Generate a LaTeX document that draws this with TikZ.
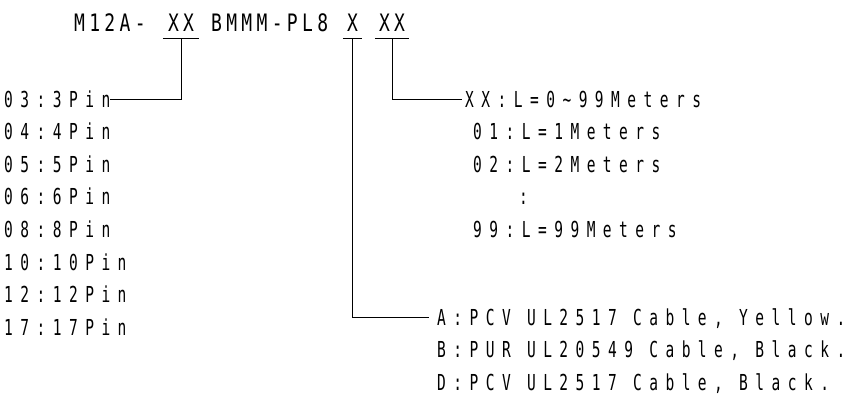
\documentclass[tikz,border=0pt]{standalone}
\usepackage{fontspec}
\usepackage{tikz}
\usetikzlibrary{positioning}
\newfontfamily\titlefont{DejaVu Sans Mono}[FakeStretch=0.75, LetterSpace=18]
\newfontfamily\rowfont{DejaVu Sans Mono}[FakeStretch=0.66, LetterSpace=34]

\begin{document}
\begin{tikzpicture}[
    x=1pt, y=-1pt,
    node distance=32.6pt,
    part/.style={font={\titlefont\fontsize{24}{27}\selectfont}, inner sep=0pt,
                 text height=17.5pt, text depth=6.5pt},
    item/.style={font={\rowfont\fontsize{22}{25}\selectfont}, inner sep=0pt,
                 text height=16pt, text depth=0pt, anchor=west},
    line/.style={line width=0.9pt, color=black},
]
    \useasboundingbox (0,0) rectangle (854,420);

    \node[part, anchor=south west] (pre)   at (74,38)    {M12A-};
    \node[part, minimum width=36pt] (pin)  at (181,26.5) {XX};
    \node[part, anchor=south west] (mid)   at (211,38)   {BMMM-PL8};
    \node[part, minimum width=19pt] (cable) at (352.5,26.5) {X};
    \node[part, minimum width=34pt] (len)  at (392,26.5) {XX};

    \node[item] (p03) at (4,99) {03:3Pin};
    \node[item, below=of p03.west, anchor=west] (p04) {04:4Pin};
    \node[item, below=of p04.west, anchor=west] (p05) {05:5Pin};
    \node[item, below=of p05.west, anchor=west] (p06) {06:6Pin};
    \node[item, below=of p06.west, anchor=west] (p08) {08:8Pin};
    \node[item, below=of p08.west, anchor=west] (p10) {10:10Pin};
    \node[item, below=of p10.west, anchor=west] (p12) {12:12Pin};
    \node[item, below=of p12.west, anchor=west] (p17) {17:17Pin};

    \node[item] (lxx) at (465,99)  {XX:L=0\textasciitilde99Meters};
    \node[item] (l01) at (473,131.6) {01:L=1Meters};
    \node[item, below=of l01.west, anchor=west] (l02) {02:L=2Meters};
    \node[item] (ldots) at (519,196.8) {:};
    \node[item, below=65.2pt of l02.west, anchor=west] (l99) {99:L=99Meters};

    \node[item] (ca) at (437,317) {A:PCV UL2517 Cable, Yellow.};
    \node[item, below=of ca.west, anchor=west] (cb) {B:PUR UL20549 Cable, Black.};
    \node[item, below=of cb.west, anchor=west] (cd) {D:PCV UL2517 Cable, Black.};

    \draw[line] (pin.south west)   -- (pin.south east);
    \draw[line] (cable.south west) -- (cable.south east);
    \draw[line] (len.south west)   -- (len.south east);
    \draw[line] (pin.south)   |- (p03.east);
    \draw[line] (len.south)   |- ([xshift=-3pt]lxx.west);
    \draw[line] (cable.south) |- ([xshift=-8pt]ca.west);
\end{tikzpicture}
\end{document}
